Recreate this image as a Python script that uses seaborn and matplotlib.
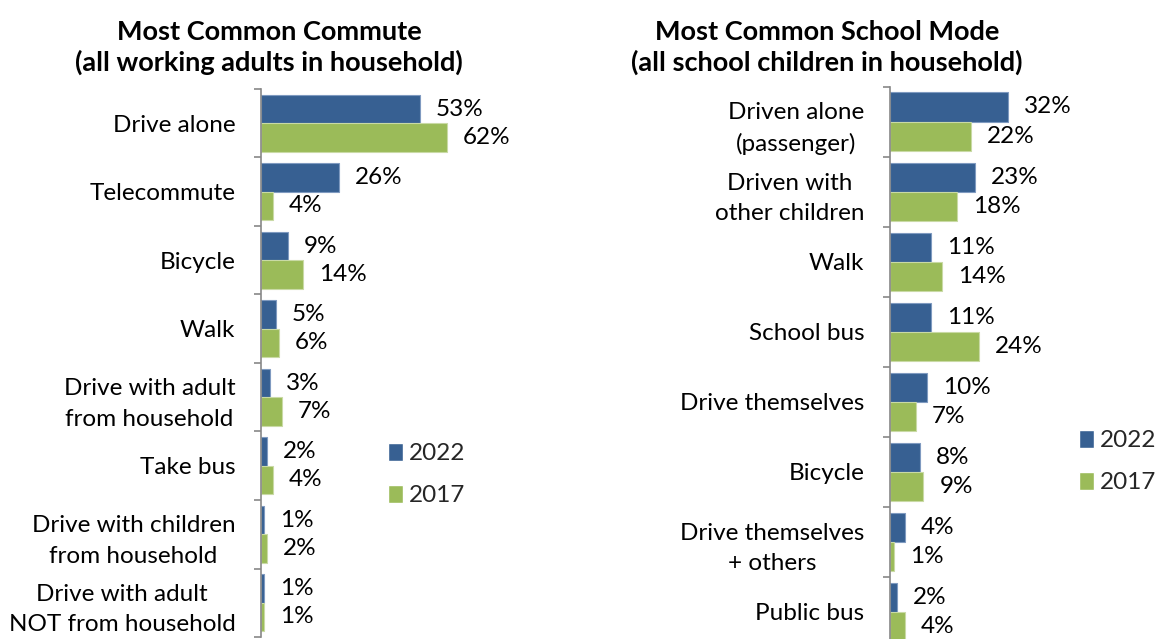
import matplotlib
matplotlib.use("Agg")
import matplotlib.pyplot as plt
import seaborn as sns
import pandas as pd

# Commute modes of working adults
commute_modes = [
    "Drive alone",
    "Telecommute",
    "Bicycle",
    "Walk",
    "Drive with adult\nfrom household",
    "Take bus",
    "Drive with children\nfrom household",
    "Drive with adult\nNOT from household",
]
commute_2022 = [53, 26, 9, 5, 3, 2, 1, 1]
commute_2017 = [62, 4, 14, 6, 7, 4, 2, 1]

# School travel modes of children
school_modes = [
    "Driven alone\n(passenger)",
    "Driven with\nother children",
    "Walk",
    "School bus",
    "Drive themselves",
    "Bicycle",
    "Drive themselves\n+ others",
    "Public bus",
]
school_2022 = [32, 23, 11, 11, 10, 8, 4, 2]
school_2017 = [22, 18, 14, 24, 7, 9, 1, 4]

years = ["2022", "2017"]
colors = {"2022": "#376092", "2017": "#9BBB59"}
edge_colors = {"2022": "#7F9AC0", "2017": "#C9DAA5"}

FONT = ["Lato", "DejaVu Sans"]
sns.set_theme(style="white")
plt.rcParams["font.family"] = FONT

W, H = 1157, 639
fig = plt.figure(figsize=(W / 100, H / 100), dpi=100)


def long_frame(modes, v2022, v2017):
    return pd.DataFrame({
        "mode": modes * 2,
        "pct": v2022 + v2017,
        "year": ["2022"] * len(modes) + ["2017"] * len(modes),
    })


def px_axes(left, top, right, bottom):
    return fig.add_axes([left / W, (H - bottom) / H, (right - left) / W, (bottom - top) / H])


def draw_panel(ax, df, modes, xmax, legend_xy, fs):
    sns.barplot(data=df, y="mode", x="pct", hue="year", order=modes,
                hue_order=years, palette=colors, saturation=1, orient="h",
                width=0.83, gap=0, ax=ax, legend=True)
    for cont, yr in zip(ax.containers, years):
        for patch in cont:
            patch.set_edgecolor(edge_colors[yr])
            patch.set_linewidth(0.8)
        ax.bar_label(cont, labels=[f"{v:.0f}%" for v in cont.datavalues],
                     padding=11.5, fontsize=fs, color="black")
    ax.set_xlim(0, xmax)
    ax.set_ylim(len(modes) - 0.5, -0.5)
    ax.set_xlabel("")
    ax.set_ylabel("")
    ax.set_xticks([])
    for side in ("top", "right", "bottom"):
        ax.spines[side].set_visible(False)
    ax.spines["left"].set_color("#878787")
    ax.spines["left"].set_linewidth(1.2)
    ax.set_yticks([i - 0.5 for i in range(len(modes) + 1)], minor=True)
    ax.tick_params(axis="y", which="minor", left=True, length=5, width=1.2,
                   color="#878787", direction="out")
    ax.tick_params(axis="y", which="major", left=False, length=0, pad=18.5,
                   labelsize=fs, labelcolor="black")
    for lbl in ax.get_yticklabels():
        lbl.set_multialignment("center")
        lbl.set_linespacing(1.55)
    handles, labels = ax.get_legend_handles_labels()
    ax.legend(handles, labels, loc="upper left",
              bbox_to_anchor=(legend_xy[0] / W, 1 - legend_xy[1] / H),
              bbox_transform=fig.transFigure, frameon=False, fontsize=fs,
              borderpad=0, borderaxespad=0, handlelength=0.62, handleheight=0.75,
              handletextpad=0.25, labelspacing=0.85)


FS = 17.5
TFS = 19.5

ax1 = px_axes(261, 89, 561, 637)
draw_panel(ax1, long_frame(commute_modes, commute_2022, commute_2017),
           commute_modes, 100, (388, 443), FS)

ax2 = px_axes(890, 86.5, 1075, 647)
draw_panel(ax2, long_frame(school_modes, school_2022, school_2017),
           school_modes, 185 / 3.7, (1079, 430), FS)

title_kw = dict(ha="center", va="baseline", fontsize=TFS, fontweight="bold",
                color="black", linespacing=1.3)
fig.text(269 / W, 1 - 71 / H, "Most Common Commute\n(all working adults in household)",
         **title_kw)
fig.text(827 / W, 1 - 71 / H, "Most Common School Mode\n(all school children in household)",
         **title_kw)

fig.savefig("out.png", dpi=100, facecolor="white")
